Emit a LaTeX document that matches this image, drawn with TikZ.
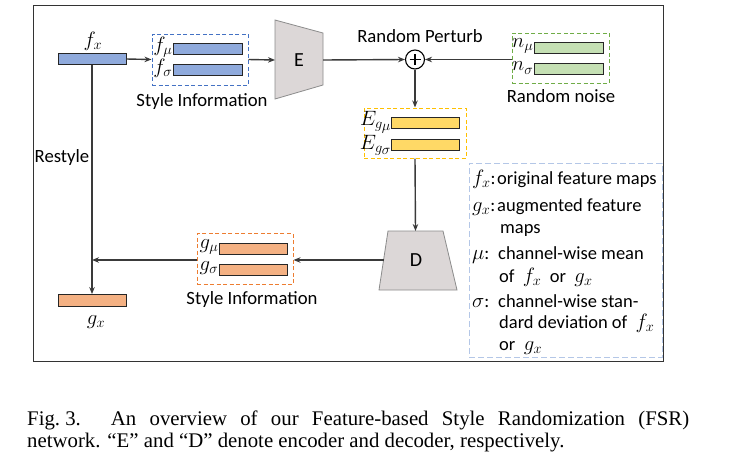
\documentclass[tikz,border=0pt]{standalone}
\usepackage{fontspec}
\setmainfont{Carlito}
\newfontfamily\capfont{Liberation Serif}
\usetikzlibrary{arrows.meta}
\definecolor{barblue}{HTML}{8FAADC}
\definecolor{boxblue}{HTML}{4472C4}
\definecolor{bargreen}{HTML}{C5E0B4}
\definecolor{boxgreen}{HTML}{70AD47}
\definecolor{baryellow}{HTML}{FFD966}
\definecolor{boxyellow}{HTML}{FFC000}
\definecolor{barorange}{HTML}{F4B183}
\definecolor{boxorange}{HTML}{ED7D31}
\definecolor{legendblue}{HTML}{B4C7E7}
\definecolor{trapfill}{HTML}{DCD7D7}
\definecolor{trapline}{HTML}{8C8C8C}
\definecolor{arrowgray}{HTML}{3A3A3A}
\newcommand\legm[1]{{\fontsize{20.5}{22}\selectfont$#1$}}
\begin{document}
\begin{tikzpicture}[x=1pt,y=-1pt,
  bar/.style={draw=black!85, line width=0.8pt, minimum width=69pt, minimum height=11pt, inner sep=0pt},
  dbox/.style={dashed, line width=1pt, dash pattern=on 4pt off 2.5pt, minimum width=96pt, minimum height=51pt, inner sep=0pt},
  conn/.style={draw=arrowgray, line width=1.4pt},
  arr/.style={conn, -{Stealth[length=7pt,width=5.5pt]}},
  lbl/.style={font=\fontsize{18.7}{21}\selectfont, inner sep=0pt},
  mlbl/.style={font=\fontsize{21.5}{23}\selectfont, inner sep=0pt},
  trap/.style={fill=trapfill, draw=trapline, line width=0.8pt},
  leg/.style={font=\fontsize{18.5}{21}\selectfont, inner sep=0pt, anchor=base west},
  capline/.style={font=\capfont\fontsize{20.8}{23}\selectfont, inner sep=0pt, anchor=base west}
]
\useasboundingbox (0,0) rectangle (736,456);
\fill[white] (0,0) rectangle (736,456);
\draw[draw=black!80, line width=1pt] (33,5) rectangle (663,361);

% input feature
\node[bar, fill=barblue, minimum width=68pt] (fx) at (92,59) {};
\node[mlbl] (fxl) at (93,41) {$f_x$};

% blue style box
\node[dbox, draw=boxblue] (bbox) at (200,59.5) {};
\node[bar, fill=barblue] (fmu) at (207.5,48.5) {};
\node[bar, fill=barblue] (fsig) at (207.5,70) {};
\node[mlbl, anchor=east] (fmul) at (172.5,47) {$f_\mu$};
\node[mlbl, anchor=east] (fsigl) at (172.5,68) {$f_\sigma$};
\node[lbl] (si1) at (202,102) {Style Information};

% encoder
\draw[trap] (275,20) -- (323,33) -- (323,85) -- (275,99) -- cycle;
\node[font=\fontsize{20}{22}\selectfont] (E) at (299,60) {E};
\coordinate (Ein) at (275,60);
\coordinate (Eout) at (323,60);

% plus
\node[draw=black, line width=1.1pt, circle, minimum size=19pt, inner sep=0pt, fill=white] (plus) at (415,59.5) {};
\draw[line width=1.1pt] ([xshift=-5.5pt]plus.center) -- ([xshift=5.5pt]plus.center)
  ([yshift=-5.5pt]plus.center) -- ([yshift=5.5pt]plus.center);
\node[lbl] (rp) at (420,36) {Random Perturb};

% green noise box
\node[dbox, draw=boxgreen, minimum width=97pt, minimum height=50pt] (gbox) at (560.5,58) {};
\node[bar, fill=bargreen] (nmu) at (568.5,47.5) {};
\node[bar, fill=bargreen] (nsig) at (568.5,68.5) {};
\node[mlbl, anchor=east] (nmul) at (533.5,46) {$n_\mu$};
\node[mlbl, anchor=east] (nsigl) at (533.5,68) {$n_\sigma$};
\node[lbl] (rn) at (561,96) {Random noise};

% yellow box
\node[dbox, draw=boxyellow, minimum width=102pt, minimum height=50pt] (ybox) at (415,133) {};
\node[bar, fill=baryellow, minimum width=68pt] (emu) at (425,122.5) {};
\node[bar, fill=baryellow, minimum width=68pt] (esig) at (425,144.5) {};
\node[mlbl, anchor=east] (emul) at (391.5,122) {$E_{g_{\scriptstyle\mu}}$};
\node[mlbl, anchor=east] (esigl) at (391.5,145) {$E_{g_{\scriptstyle\sigma}}$};

% decoder
\draw[trap] (388,231) -- (443,231) -- (457,290) -- (379,290) -- cycle;
\node[font=\fontsize{20}{22}\selectfont] (D) at (416,260) {D};
\coordinate (Din) at (415.5,231);
\coordinate (Dout) at (383.6,260);

% orange box
\node[dbox, draw=boxorange] (obox) at (245,259) {};
\node[bar, fill=barorange, minimum width=68pt] (gmu) at (253,248.5) {};
\node[bar, fill=barorange, minimum width=68pt] (gsig) at (253,270) {};
\node[mlbl, anchor=east] (gmul) at (218.5,247) {$g_\mu$};
\node[mlbl, anchor=east] (gsigl) at (218.5,268) {$g_\sigma$};
\node[lbl] (si2) at (252,300) {Style Information};

% output
\node[bar, fill=barorange, minimum width=68pt, minimum height=12pt] (gx) at (92,300.5) {};
\node[mlbl] (gxl) at (96,322) {$g_x$};
\node[lbl] (rs) at (62,158) {Restyle};
\coordinate (join) at (92,260);

% connectors
\draw[arr] (fx.east) -- (bbox.west);
\draw[arr] (bbox.east) -- (Ein);
\draw[arr] (Eout) -- (plus.west);
\draw[arr] (gbox.west |- plus.east) -- (plus.east);
\draw[arr] (plus.south) -- (ybox.north);
\draw[arr] (ybox.south) -- (Din);
\draw[arr] (Dout) -- (obox.east |- Dout);
\draw[arr] (obox.west |- join) -- (join);
\draw[arr] (fx.south) -- (gx.north);

% legend
\node[draw=legendblue, dashed, dash pattern=on 6pt off 3pt, line width=1pt, minimum width=193pt, minimum height=194pt, inner sep=0pt] (legend) at (565.5,260) {};
\node[leg] (s1) at (472,184) {\legm{f_x}:};
\node[leg] (l1) at (497,184) {original feature maps};
\node[leg] (s2) at (472,211) {\legm{g_x}:};
\node[leg] (l2) at (497,211) {augmented feature};
\node[leg] (l3) at (500,233) {maps};
\node[leg] (s4) at (472,259) {\legm{\mu}:};
\node[leg] (l4) at (498,259) {channel-wise mean};
\node[leg] (l5) at (499,282) {of~ \legm{f_x}~ or~ \legm{g_x}};
\node[leg] (s6) at (472,307) {\legm{\sigma}:};
\node[leg] (l6) at (498,307) {channel-wise stan-};
\node[leg] (l7) at (499,328) {dard deviation of~ \legm{f_x}};
\node[leg] (l8) at (499,350) {or~ \legm{g_x}};

% caption
\node[capline] (cap1) at (27,425) {\makebox[662pt][s]{Fig.\kern5.2pt 3.\hspace{30pt}An overview of our Feature-based Style Randomization (FSR)}};
\node[capline] (cap2) at (27,447) {network. “E” and “D” denote encoder and decoder, respectively.};
\end{tikzpicture}
\end{document}
